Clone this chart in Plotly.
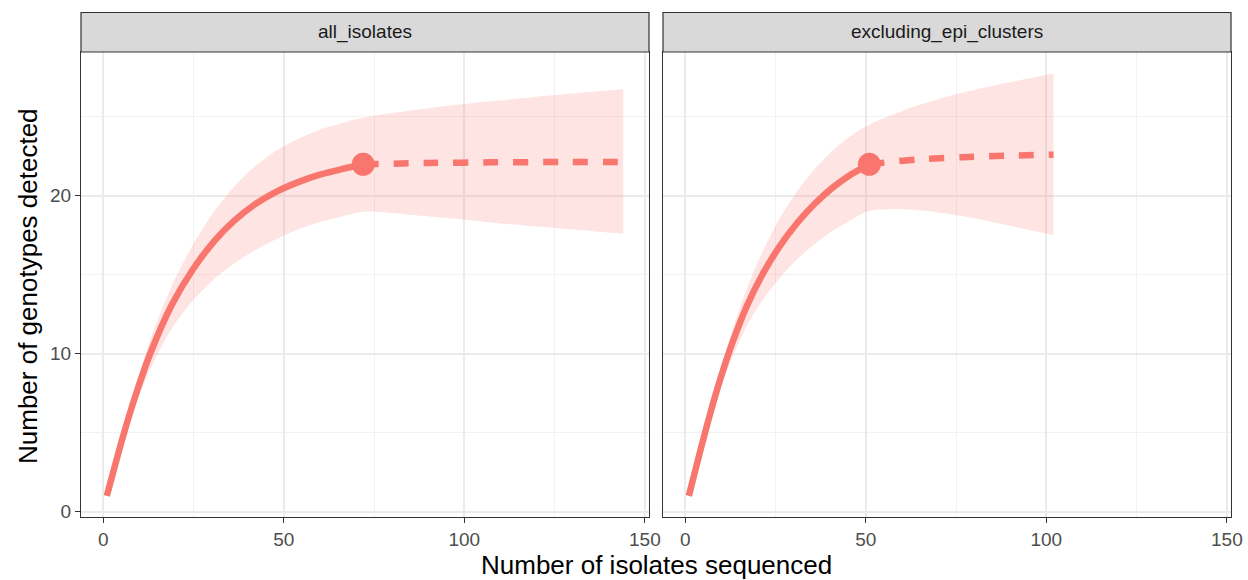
import plotly.graph_objects as go

# ---------------- data ----------------
panels = ["all_isolates", "excluding_epi_clusters"]

all_x_obs = [1, 4, 7, 10, 13, 19, 25, 31, 36, 42, 48, 54, 60, 66, 72]
all_y_obs = [1, 3.55, 5.94, 8.08, 10.0, 13.1, 15.4, 17.2, 18.37, 19.46, 20.27, 20.87, 21.34, 21.69, 22.0]
all_lo_obs = [1, 3.4, 5.54, 7.38, 9.0, 11.6, 13.4, 14.8, 15.67, 16.56, 17.27, 17.87, 18.34, 18.69, 19.0]
all_hi_obs = [1, 3.65, 6.24, 8.68, 10.85, 14.3, 16.95, 19.1, 20.52, 21.86, 22.87, 23.62, 24.19, 24.59, 24.95]
all_x_ext = [72, 90, 108, 126, 144]
all_y_ext = [22.0, 22.08, 22.12, 22.14, 22.15]
all_lo_ext = [19.0, 18.7, 18.3, 17.95, 17.6]
all_hi_ext = [24.95, 25.55, 26.0, 26.4, 26.75]

ex_x_obs = [1, 4, 7, 10, 13, 17, 21, 26, 31, 36, 41, 46, 51]
ex_y_obs = [1, 3.7, 6.27, 8.6, 10.65, 12.98, 14.86, 16.75, 18.28, 19.53, 20.55, 21.37, 22.0]
ex_lo_obs = [1, 3.55, 5.87, 7.95, 9.75, 11.73, 13.26, 14.75, 15.98, 16.98, 17.8, 18.47, 19.05]
ex_hi_obs = [1, 3.8, 6.57, 9.15, 11.45, 14.08, 16.26, 18.5, 20.28, 21.73, 22.9, 23.82, 24.5]
ex_x_ext = [51, 64, 77, 90, 102]
ex_y_ext = [22.0, 22.3, 22.45, 22.55, 22.6]
ex_lo_ext = [19.05, 19.1, 18.7, 18.1, 17.5]
ex_hi_ext = [24.5, 25.7, 26.55, 27.2, 27.75]

x_ticks = [0, 50, 100, 150]
y_ticks = [0, 10, 20]

# ---------------- styling ----------------
RED = "#F8766D"
BAND = "rgba(248,118,109,0.2)"
W, H = 1248, 580
FONT = "Liberation Sans, Arial, Helvetica, sans-serif"

fig = go.Figure()

series = [
    (all_x_obs, all_y_obs, all_lo_obs, all_hi_obs, all_x_ext, all_y_ext, all_lo_ext, all_hi_ext),
    (ex_x_obs, ex_y_obs, ex_lo_obs, ex_hi_obs, ex_x_ext, ex_y_ext, ex_lo_ext, ex_hi_ext),
]

for i, (xo, yo, lo, hi, xe, ye, loe, hie) in enumerate(series):
    xa = "x" if i == 0 else "x2"
    ya = "y" if i == 0 else "y2"
    bx = xo + xe[1:]
    blo = lo + loe[1:]
    bhi = hi + hie[1:]
    fig.add_trace(go.Scatter(x=bx, y=blo, mode="lines", line=dict(width=0, shape="spline", smoothing=0.8),
                             hoverinfo="skip", showlegend=False, xaxis=xa, yaxis=ya))
    fig.add_trace(go.Scatter(x=bx, y=bhi, mode="lines", fill="tonexty", fillcolor=BAND,
                             line=dict(width=0, shape="spline", smoothing=0.8),
                             hoverinfo="skip", showlegend=False, xaxis=xa, yaxis=ya))
    fig.add_trace(go.Scatter(x=xo, y=yo, mode="lines",
                             line=dict(color=RED, width=6.5, shape="spline", smoothing=0.8),
                             showlegend=False, xaxis=xa, yaxis=ya))
    fig.add_trace(go.Scatter(x=xe, y=ye, mode="lines",
                             line=dict(color=RED, width=6.5, dash="15px,15px", shape="spline", smoothing=0.8),
                             showlegend=False, xaxis=xa, yaxis=ya))
    fig.add_trace(go.Scatter(x=[xo[-1]], y=[yo[-1]], mode="markers",
                             marker=dict(color=RED, size=23, line=dict(width=0)),
                             showlegend=False, xaxis=xa, yaxis=ya))

# panel geometry (pixels)
L1, R1, L2, R2 = 81, 649, 663, 1231
TOP_STRIP, BOT_STRIP, BOT = 12.5, 52, 517

def px(x):
    return x / W

def py(y):
    return (H - y) / H

xr = [-6.15, 151.15]
yr = [-0.34, 29.11]

common_x = dict(range=xr, tickvals=x_ticks, ticktext=[str(v) for v in x_ticks],
                showgrid=True, gridcolor="#EBEBEB", gridwidth=1.5, zeroline=False,
                showline=True, mirror=True, linecolor="#333333", linewidth=1.2,
                ticks="outside", ticklen=5, tickwidth=1.2, tickcolor="#333333",
                tickfont=dict(family=FONT, size=19, color="#4D4D4D"),
                minor=dict(tickvals=[25, 75, 125], showgrid=True, gridcolor="#F2F2F2", gridwidth=1, ticks=""),
                fixedrange=True, automargin=False)
common_y = dict(range=yr, tickvals=y_ticks, ticktext=[str(v) for v in y_ticks],
                showgrid=True, gridcolor="#EBEBEB", gridwidth=1.5, zeroline=False,
                showline=True, mirror=True, linecolor="#333333", linewidth=1.2,
                minor=dict(tickvals=[5, 15, 25], showgrid=True, gridcolor="#F2F2F2", gridwidth=1, ticks=""),
                fixedrange=True, automargin=False, domain=[py(BOT), py(BOT_STRIP)])

fig.update_layout(
    width=W, height=H,
    margin=dict(l=0, r=0, t=0, b=0),
    paper_bgcolor="white", plot_bgcolor="white",
    showlegend=False,
    xaxis=dict(common_x, domain=[px(L1), px(R1)], anchor="y"),
    xaxis2=dict(common_x, domain=[px(L2), px(R2)], anchor="y2"),
    yaxis=dict(common_y, anchor="x", ticks="outside", ticklen=5, tickwidth=1.2, tickcolor="#333333",
               tickfont=dict(family=FONT, size=19, color="#4D4D4D")),
    yaxis2=dict(common_y, anchor="x2", showticklabels=False, ticks=""),
)

# strips
for (l, r), name in zip([(L1, R1), (L2, R2)], panels):
    fig.add_shape(type="rect", xref="paper", yref="paper",
                  x0=px(l), x1=px(r), y0=py(BOT_STRIP), y1=py(TOP_STRIP),
                  fillcolor="#D9D9D9", line=dict(color="#333333", width=1.2), layer="above")
    fig.add_annotation(x=px((l + r) / 2), y=py((TOP_STRIP + BOT_STRIP) / 2), xref="paper", yref="paper",
                       text=name, showarrow=False, xanchor="center", yanchor="middle",
                       font=dict(family=FONT, size=19, color="#1A1A1A"))

# axis titles
fig.add_annotation(x=px((L1 + R2) / 2), y=py(565), xref="paper", yref="paper",
                   text="Number of isolates sequenced", showarrow=False,
                   xanchor="center", yanchor="middle",
                   font=dict(family=FONT, size=26, color="black"))
fig.add_annotation(x=px(28), y=py(286), xref="paper", yref="paper",
                   text="Number of genotypes detected", showarrow=False, textangle=-90,
                   xanchor="center", yanchor="middle",
                   font=dict(family=FONT, size=26, color="black"))

fig.write_html("out.html", config={"displayModeBar": False},
               post_script="document.body.style.margin='0px';document.body.style.overflow='hidden';")
